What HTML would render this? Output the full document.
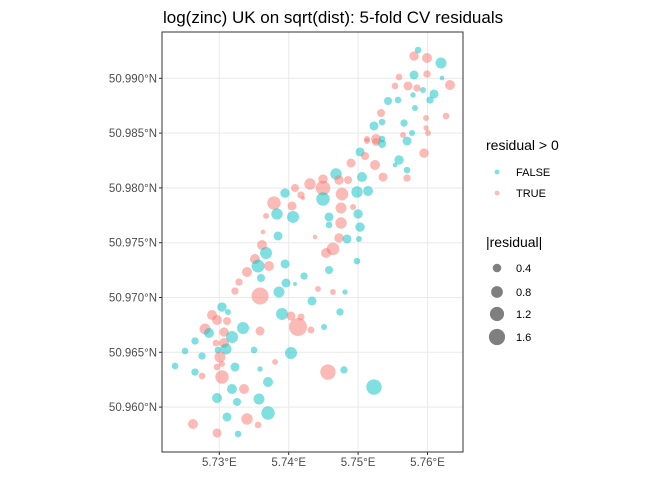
<!DOCTYPE html>
<html><head><meta charset="utf-8"><style>
html,body{margin:0;padding:0;background:#fff}
svg{display:block;font-family:"Liberation Sans",Arial,sans-serif}
</style></head><body>
<svg id="chart" width="672" height="480" viewBox="0 0 672 480">
<rect x="0" y="0" width="672" height="480" fill="#fff"/>
<text x="163" y="23" font-size="17" fill="#000">log(zinc) UK on sqrt(dist): 5-fold CV residuals</text>
<g id="grid"></g>
<g id="points"></g>
<rect x="162" y="32" width="301" height="420" fill="none" stroke="#333" stroke-width="1"/>
<g id="axes"></g>
<g>
<text x="486" y="150" font-size="14" fill="#000">residual &gt; 0</text>
<circle cx="497" cy="172" r="2.4" fill="rgba(0,191,196,0.5)"/>
<text x="516" y="176" font-size="11" fill="#000">FALSE</text>
<circle cx="497" cy="193" r="2.4" fill="rgba(248,118,109,0.5)"/>
<text x="516" y="197" font-size="11" fill="#000">TRUE</text>
</g>
<g id="sizeLegend">
<text x="486" y="247" font-size="14" fill="#000">|residual|</text>
</g>
</svg>
<script>
const lon=[5.73615,5.73673,5.73514,5.73558,5.73716,5.73947,5.73399,5.73601,5.73284,5.74221,5.73961,5.74091,5.73226,5.73587,5.73860,5.74422,5.74336,5.73039,5.73125,5.72895,5.72967,5.73111,5.73904,5.74033,5.74177,5.73342,5.72794,5.72852,5.73068,5.73587,5.74134,5.74321,5.73183,5.72650,5.72952,5.73068,5.73097,5.72981,5.72506,5.73500,5.74033,5.73010,5.72751,5.73039,5.73803,5.72362,5.72967,5.73226,5.73587,5.72650,5.72751,5.73039,5.73183,5.73356,5.73702,5.72967,5.73255,5.73572,5.73702,5.73111,5.73399,5.73558,5.72621,5.72967,5.73270,5.75128,5.75258,5.75345,5.75028,5.75100,5.74898,5.75244,5.74682,5.75056,5.75359,5.74494,5.74725,5.74855,5.74307,5.74091,5.74494,5.74984,5.75143,5.73947,5.74177,5.74206,5.74768,5.74494,5.73788,5.74048,5.74754,5.74927,5.73831,5.73673,5.74062,5.74581,5.74999,5.74754,5.74581,5.75028,5.73630,5.73846,5.74379,5.74725,5.74840,5.75013,5.74638,5.74538,5.74984,5.74581,5.74638,5.74811,5.75863,5.75806,5.75993,5.76195,5.75590,5.75806,5.75993,5.76209,5.76324,5.75532,5.75719,5.75849,5.75935,5.76094,5.76036,5.75791,5.75431,5.75575,5.75820,5.75330,5.76267,5.75979,5.75345,5.75229,5.75662,5.75979,5.76007,5.75777,5.75647,5.75128,5.75258,5.75345,5.75705,5.75950,5.75590,5.75532,5.75705,5.75705,5.74739,5.74509,5.74566,5.74797,5.75229];
const lat=[50.97479,50.97406,50.97351,50.97287,50.97287,50.97306,50.97233,50.97178,50.97141,50.97196,50.97132,50.97123,50.97059,50.97014,50.97050,50.97078,50.96968,50.96913,50.96868,50.96840,50.96795,50.96786,50.96850,50.96831,50.96822,50.96722,50.96713,50.96676,50.96685,50.96694,50.96731,50.96704,50.96640,50.96603,50.96585,50.96585,50.96530,50.96521,50.96512,50.96521,50.96494,50.96457,50.96466,50.96393,50.96412,50.96375,50.96366,50.96366,50.96348,50.96320,50.96284,50.96275,50.96165,50.96165,50.96229,50.96083,50.96047,50.96074,50.95946,50.95910,50.95892,50.95837,50.95846,50.95764,50.95755,50.98428,50.98419,50.98401,50.98328,50.98291,50.98227,50.98209,50.98127,50.98099,50.98099,50.98081,50.98072,50.98072,50.98036,50.97999,50.97999,50.97963,50.97972,50.97953,50.97935,50.97908,50.97944,50.97899,50.97862,50.97835,50.97817,50.97826,50.97762,50.97744,50.97735,50.97735,50.97762,50.97680,50.97662,50.97643,50.97598,50.97561,50.97552,50.97543,50.97534,50.97534,50.97443,50.97406,50.97333,50.97251,50.97050,50.97050,50.99258,50.99203,50.99185,50.99140,50.99012,50.99030,50.99039,50.99003,50.98939,50.98930,50.98930,50.98911,50.98893,50.98857,50.98802,50.98848,50.98793,50.98802,50.98729,50.98683,50.98656,50.98638,50.98601,50.98565,50.98592,50.98547,50.98501,50.98501,50.98483,50.98446,50.98446,50.98446,50.98428,50.98318,50.98255,50.98209,50.98163,50.98090,50.96868,50.96731,50.96320,50.96339,50.96183];
const residual=[0.56,-0.84,0.56,-1.0,0.56,-0.44,0.56,-0.34,0.28,-0.28,-0.44,-0.06,0.28,1.78,-0.69,0.17,-0.44,-0.49,-0.17,0.56,0.56,0.34,-0.84,0.44,0.25,-0.84,0.69,-0.56,0.49,0.44,2.0,0.25,-0.84,-0.28,0.22,0.56,-0.69,-0.22,-0.22,-0.22,-0.84,0.69,-0.28,0.17,0.17,-0.22,0.22,-0.44,-0.13,-0.28,0.22,1.07,-0.56,0.56,-0.56,-0.56,-0.34,-0.69,-1.07,-0.44,0.75,0.22,0.56,0.44,-0.22,0.17,0.34,-0.34,-0.44,0.34,0.44,0.56,-0.75,-0.56,0.44,0.49,0.49,0.34,0.75,0.34,1.28,-0.75,-0.56,-0.49,0.28,0.06,0.93,-1.07,1.07,0.44,0.69,0.17,-0.75,0.17,-0.84,-0.44,-0.49,0.75,-0.22,-0.49,0.09,-0.44,0.09,0.49,-0.44,-0.17,0.93,0.56,-0.22,-0.34,0.17,-0.13,-0.22,0.49,0.56,-0.69,0.22,-0.44,0.28,-0.09,0.56,0.22,0.44,0.28,-0.17,-0.44,-0.28,-0.13,-0.34,-0.22,-0.17,0.34,0.22,0.17,-0.22,-0.44,-0.28,0.13,0.17,-0.17,0.17,0.17,0.56,-0.22,-0.44,0.49,-0.49,-0.09,-0.22,0.28,-0.28,-0.17,1.44,-0.28,-1.44];
const xTicks=[5.73,5.74,5.75,5.76];
const xTickLabels=["5.73°E","5.74°E","5.75°E","5.76°E"];
const yTicks=[50.96,50.965,50.97,50.975,50.98,50.985,50.99];
const yTickLabels=["50.960°N","50.965°N","50.970°N","50.975°N","50.980°N","50.985°N","50.990°N"];
const sizeBreaks=[0.4,0.8,1.2,1.6];

const NS="http://www.w3.org/2000/svg";
const PL=162,PR=463,PT=32,PB=452;
function xs(v){return 219.3+(v-5.73)*6940;}
function ys(v){return 78.3+(50.99-v)*10960;}
function rs(v){return 0.5+6*Math.sqrt(Math.abs(v));}
function mk(t,a,p){const e=document.createElementNS(NS,t);for(const k in a)e.setAttribute(k,a[k]);(p||document.getElementById('chart')).appendChild(e);return e;}
const grid=document.getElementById('grid'),axes=document.getElementById('axes'),pts=document.getElementById('points'),sl=document.getElementById('sizeLegend');
mk('rect',{x:PL,y:PT,width:PR-PL,height:PB-PT,fill:'#fff'},grid);
xTicks.forEach((t,i)=>{const x=xs(t);
 const g=mk('line',{x1:x,x2:x,y1:PT,y2:PB,stroke:'#ebebeb','stroke-width':1.1},grid);
 
 
 mk('line',{x1:x,x2:x,y1:PB,y2:PB+3,stroke:'#333'},axes);
 const tx=mk('text',{x:x,y:PB+14,'font-size':11.5,fill:'#4d4d4d','text-anchor':'middle'},axes);
 tx.textContent=xTickLabels[i];
 
 
});
yTicks.forEach((t,i)=>{const y=ys(t);
 const g=mk('line',{x1:PL,x2:PR,y1:y,y2:y,stroke:'#ebebeb','stroke-width':1.1},grid);
 
 
 mk('line',{x1:PL-3,x2:PL,y1:y,y2:y,stroke:'#333'},axes);
 const tx=mk('text',{x:PL-5,y:y+4,'font-size':11.5,fill:'#4d4d4d','text-anchor':'end'},axes);
 tx.textContent=yTickLabels[i];
 
 
});
for(let i=0;i<lon.length;i++){
 const c=mk('circle',{cx:xs(lon[i]),cy:ys(lat[i]),r:rs(residual[i]),fill:residual[i]>0?'rgba(248,118,109,0.5)':'rgba(0,191,196,0.5)'},pts);
 
 
}
const ly=[268,292,314,337];
sizeBreaks.forEach((b,i)=>{
 const c=mk('circle',{cx:497,cy:ly[i],r:rs(b),fill:'rgba(0,0,0,0.5)'},sl);
 
 
 const t=mk('text',{x:516,y:ly[i]+4,'font-size':11,fill:'#000'},sl);
 t.textContent=String(b);
 
 
});
</script>
</body></html>
